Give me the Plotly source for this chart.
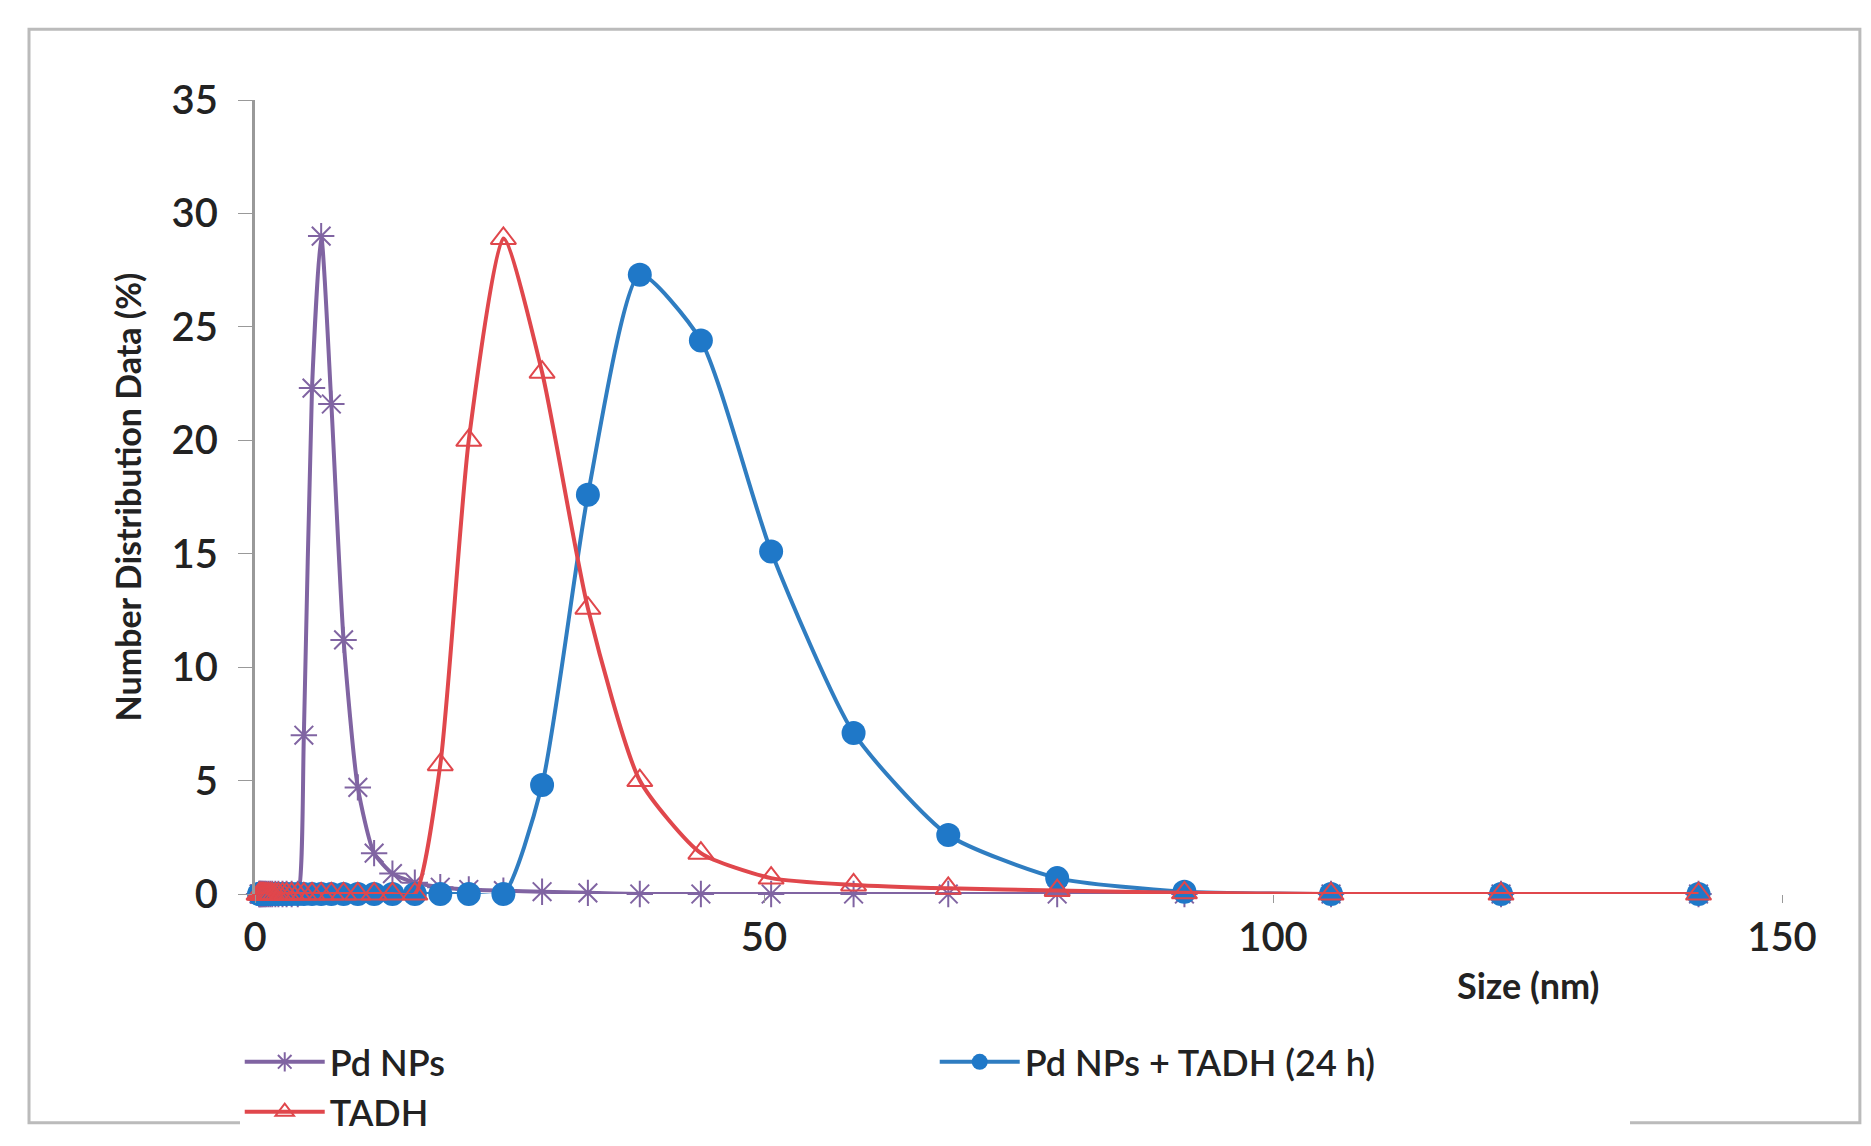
import plotly.graph_objects as go

sizes = [0.4,0.46,0.53,0.62,0.72,0.83,0.96,1.1,1.3,1.5,1.7,2.0,2.3,2.7,3.1,3.6,4.2,4.8,5.6,6.5,7.5,8.7,10.1,11.7,13.5,15.7,18.2,21.0,24.4,28.2,32.7,37.8,43.8,50.7,58.8,68.1,78.8,91.3,105.7,122.4,141.8]
pd_nps = [0]*16 + [0,7.0,22.3,29.0,21.6,11.2,4.7,1.8,0.9,0.5,0.3,0.2,0.15,0.1,0.05,0,0,0,0,0,0,0,0,0,0]
pd_tadh = [0]*29 + [4.8,17.6,27.3,24.4,15.1,7.1,2.6,0.7,0.1,0,0,0]
tadh = [0]*26 + [5.7,20.0,28.9,23.0,12.6,5.0,1.8,0.7,0.4,0.25,0.15,0.05,0,0,0]

fig = go.Figure()
fig.add_trace(go.Scatter(x=sizes, y=pd_nps, name="Pd NPs", mode="lines+markers",
    line=dict(color="#8064A2", width=4, shape="spline", smoothing=0.6),
    marker=dict(symbol="asterisk-open", size=22, color="#8064A2", line=dict(width=2, color="#8064A2"))))
fig.add_trace(go.Scatter(x=sizes, y=pd_tadh, name="Pd NPs + TADH (24 h)", mode="lines+markers",
    line=dict(color="#2F7DC1", width=4, shape="spline", smoothing=0.6),
    marker=dict(symbol="circle", size=24, color="#1F78C8")))
fig.add_trace(go.Scatter(x=sizes, y=tadh, name="TADH", mode="lines+markers",
    line=dict(color="#E0474C", width=4, shape="spline", smoothing=0.6),
    marker=dict(symbol="triangle-up-open", size=22, color="#E0474C", line=dict(width=2, color="#E0474C"))))

fnt = dict(family="Lato, DejaVu Sans", color="#222", size=40, weight=600)
fig.update_layout(
    width=1871, height=1146, paper_bgcolor="white", plot_bgcolor="white",
    margin=dict(l=247, r=97, t=92, b=253),
    font=fnt,
    xaxis=dict(range=[0, 150], tickvals=[0, 50, 100, 150], showgrid=False, zeroline=False,
               showline=False, ticks="outside", ticklen=8, tickcolor="#999"),
    yaxis=dict(range=[0, 35], dtick=5, showgrid=False, zeroline=False, showline=True,
               linecolor="#999", linewidth=3, ticks="outside", ticklen=14, tickcolor="#999",
               title=dict(text="<b>Number Distribution Data (%)</b>", font=dict(size=34), standoff=20),
               ticklabelstandoff=12),
    legend=dict(orientation="h", x=-0.01, xanchor="left", y=-0.243, yanchor="middle",
                font=dict(size=36), entrywidth=600, itemwidth=80),
    annotations=[dict(text="<b>Size (nm)</b>", x=125, y=-0.115, xref="x", yref="paper",
                      showarrow=False, font=dict(size=36), xanchor="center", yanchor="middle")],
    shapes=[dict(type="rect", xref="paper", yref="paper", x0=-0.148, x1=1.051, y0=-0.288, y1=1.089,
                 line=dict(color="#bbb", width=3))]
)
for t in fig.data:
    t.cliponaxis = False
fig.write_html("out.html")
